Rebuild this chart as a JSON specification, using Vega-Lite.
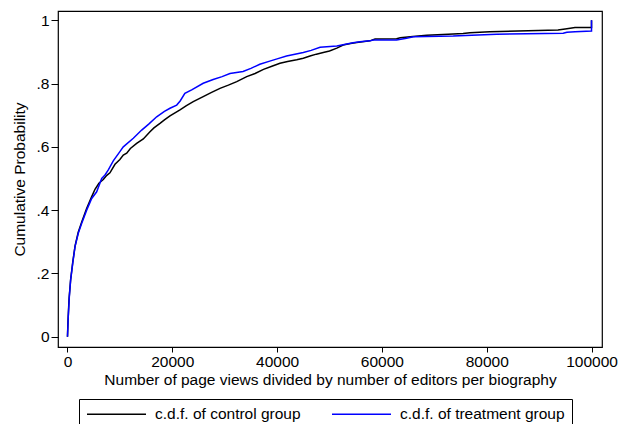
{
  "$schema": "https://vega.github.io/schema/vega-lite/v6.json",
  "width": 544,
  "height": 336,
  "autosize": {"type": "none"},
  "padding": {"left": 58, "top": 11, "right": 16, "bottom": 77},
  "background": "white",
  "config": {
    "font": "Liberation Sans",
    "view": {"stroke": "black", "strokeWidth": 1.2},
    "axis": {
      "domain": false, "grid": false, "tickColor": "black", "labelColor": "black",
      "titleColor": "black", "labelFont": "Liberation Sans", "titleFont": "Liberation Sans",
      "labelFontSize": 15.5, "titleFontSize": 15.5, "titleFontWeight": "normal"
    }
  },
  "data": {
    "values": [
      {"i": 1, "g": "c.d.f. of control group", "x": 0, "y": 0.0},
      {"i": 2, "g": "c.d.f. of control group", "x": 100, "y": 0.05},
      {"i": 3, "g": "c.d.f. of control group", "x": 300, "y": 0.12},
      {"i": 4, "g": "c.d.f. of control group", "x": 600, "y": 0.18},
      {"i": 5, "g": "c.d.f. of control group", "x": 1000, "y": 0.235},
      {"i": 6, "g": "c.d.f. of control group", "x": 1450, "y": 0.287},
      {"i": 7, "g": "c.d.f. of control group", "x": 2050, "y": 0.33},
      {"i": 8, "g": "c.d.f. of control group", "x": 2700, "y": 0.362},
      {"i": 9, "g": "c.d.f. of control group", "x": 3650, "y": 0.405},
      {"i": 10, "g": "c.d.f. of control group", "x": 4600, "y": 0.442},
      {"i": 11, "g": "c.d.f. of control group", "x": 5250, "y": 0.466},
      {"i": 12, "g": "c.d.f. of control group", "x": 6000, "y": 0.485},
      {"i": 13, "g": "c.d.f. of control group", "x": 6830, "y": 0.497},
      {"i": 14, "g": "c.d.f. of control group", "x": 7500, "y": 0.51},
      {"i": 15, "g": "c.d.f. of control group", "x": 8100, "y": 0.518},
      {"i": 16, "g": "c.d.f. of control group", "x": 9065, "y": 0.545},
      {"i": 17, "g": "c.d.f. of control group", "x": 10000, "y": 0.56},
      {"i": 18, "g": "c.d.f. of control group", "x": 10650, "y": 0.574},
      {"i": 19, "g": "c.d.f. of control group", "x": 11300, "y": 0.58},
      {"i": 20, "g": "c.d.f. of control group", "x": 12000, "y": 0.595},
      {"i": 21, "g": "c.d.f. of control group", "x": 13200, "y": 0.611},
      {"i": 22, "g": "c.d.f. of control group", "x": 14470, "y": 0.625},
      {"i": 23, "g": "c.d.f. of control group", "x": 15744, "y": 0.648},
      {"i": 24, "g": "c.d.f. of control group", "x": 16500, "y": 0.66},
      {"i": 25, "g": "c.d.f. of control group", "x": 17650, "y": 0.674},
      {"i": 26, "g": "c.d.f. of control group", "x": 18500, "y": 0.685},
      {"i": 27, "g": "c.d.f. of control group", "x": 19560, "y": 0.698},
      {"i": 28, "g": "c.d.f. of control group", "x": 21470, "y": 0.717},
      {"i": 29, "g": "c.d.f. of control group", "x": 22700, "y": 0.73},
      {"i": 30, "g": "c.d.f. of control group", "x": 24000, "y": 0.743},
      {"i": 31, "g": "c.d.f. of control group", "x": 25900, "y": 0.759},
      {"i": 32, "g": "c.d.f. of control group", "x": 27500, "y": 0.772},
      {"i": 33, "g": "c.d.f. of control group", "x": 29100, "y": 0.785},
      {"i": 34, "g": "c.d.f. of control group", "x": 30700, "y": 0.795},
      {"i": 35, "g": "c.d.f. of control group", "x": 32300, "y": 0.806},
      {"i": 36, "g": "c.d.f. of control group", "x": 34200, "y": 0.822},
      {"i": 37, "g": "c.d.f. of control group", "x": 35800, "y": 0.832},
      {"i": 38, "g": "c.d.f. of control group", "x": 37400, "y": 0.845},
      {"i": 39, "g": "c.d.f. of control group", "x": 39000, "y": 0.855},
      {"i": 40, "g": "c.d.f. of control group", "x": 40550, "y": 0.864},
      {"i": 41, "g": "c.d.f. of control group", "x": 42000, "y": 0.87},
      {"i": 42, "g": "c.d.f. of control group", "x": 43740, "y": 0.875},
      {"i": 43, "g": "c.d.f. of control group", "x": 45000, "y": 0.88},
      {"i": 44, "g": "c.d.f. of control group", "x": 46280, "y": 0.887},
      {"i": 45, "g": "c.d.f. of control group", "x": 47500, "y": 0.893},
      {"i": 46, "g": "c.d.f. of control group", "x": 48800, "y": 0.898},
      {"i": 47, "g": "c.d.f. of control group", "x": 50000, "y": 0.903},
      {"i": 48, "g": "c.d.f. of control group", "x": 51400, "y": 0.912},
      {"i": 49, "g": "c.d.f. of control group", "x": 52600, "y": 0.922},
      {"i": 50, "g": "c.d.f. of control group", "x": 54000, "y": 0.927},
      {"i": 51, "g": "c.d.f. of control group", "x": 55200, "y": 0.930},
      {"i": 52, "g": "c.d.f. of control group", "x": 57700, "y": 0.935},
      {"i": 53, "g": "c.d.f. of control group", "x": 58700, "y": 0.941},
      {"i": 54, "g": "c.d.f. of control group", "x": 62800, "y": 0.942},
      {"i": 55, "g": "c.d.f. of control group", "x": 63500, "y": 0.945},
      {"i": 56, "g": "c.d.f. of control group", "x": 65400, "y": 0.948},
      {"i": 57, "g": "c.d.f. of control group", "x": 68550, "y": 0.953},
      {"i": 58, "g": "c.d.f. of control group", "x": 72670, "y": 0.956},
      {"i": 59, "g": "c.d.f. of control group", "x": 75500, "y": 0.958},
      {"i": 60, "g": "c.d.f. of control group", "x": 76800, "y": 0.961},
      {"i": 61, "g": "c.d.f. of control group", "x": 80600, "y": 0.964},
      {"i": 62, "g": "c.d.f. of control group", "x": 87900, "y": 0.967},
      {"i": 63, "g": "c.d.f. of control group", "x": 93600, "y": 0.969},
      {"i": 64, "g": "c.d.f. of control group", "x": 95300, "y": 0.973},
      {"i": 65, "g": "c.d.f. of control group", "x": 96850, "y": 0.977},
      {"i": 66, "g": "c.d.f. of control group", "x": 100000, "y": 0.977},
      {"i": 67, "g": "c.d.f. of control group", "x": 100000, "y": 1.0},
      {"i": 1, "g": "c.d.f. of treatment group", "x": 0, "y": 0.0},
      {"i": 2, "g": "c.d.f. of treatment group", "x": 150, "y": 0.063},
      {"i": 3, "g": "c.d.f. of treatment group", "x": 350, "y": 0.126},
      {"i": 4, "g": "c.d.f. of treatment group", "x": 600, "y": 0.179},
      {"i": 5, "g": "c.d.f. of treatment group", "x": 1000, "y": 0.232},
      {"i": 6, "g": "c.d.f. of treatment group", "x": 1430, "y": 0.284},
      {"i": 7, "g": "c.d.f. of treatment group", "x": 2060, "y": 0.327},
      {"i": 8, "g": "c.d.f. of treatment group", "x": 2700, "y": 0.358},
      {"i": 9, "g": "c.d.f. of treatment group", "x": 3660, "y": 0.40},
      {"i": 10, "g": "c.d.f. of treatment group", "x": 4620, "y": 0.437},
      {"i": 11, "g": "c.d.f. of treatment group", "x": 5570, "y": 0.458},
      {"i": 12, "g": "c.d.f. of treatment group", "x": 6530, "y": 0.50},
      {"i": 13, "g": "c.d.f. of treatment group", "x": 7160, "y": 0.511},
      {"i": 14, "g": "c.d.f. of treatment group", "x": 7790, "y": 0.527},
      {"i": 15, "g": "c.d.f. of treatment group", "x": 8740, "y": 0.556},
      {"i": 16, "g": "c.d.f. of treatment group", "x": 10000, "y": 0.585},
      {"i": 17, "g": "c.d.f. of treatment group", "x": 10650, "y": 0.600},
      {"i": 18, "g": "c.d.f. of treatment group", "x": 12560, "y": 0.627},
      {"i": 19, "g": "c.d.f. of treatment group", "x": 14160, "y": 0.653},
      {"i": 20, "g": "c.d.f. of treatment group", "x": 15500, "y": 0.672},
      {"i": 21, "g": "c.d.f. of treatment group", "x": 17020, "y": 0.695},
      {"i": 22, "g": "c.d.f. of treatment group", "x": 18500, "y": 0.712},
      {"i": 23, "g": "c.d.f. of treatment group", "x": 19560, "y": 0.722},
      {"i": 24, "g": "c.d.f. of treatment group", "x": 20840, "y": 0.732},
      {"i": 25, "g": "c.d.f. of treatment group", "x": 21500, "y": 0.745},
      {"i": 26, "g": "c.d.f. of treatment group", "x": 22400, "y": 0.769},
      {"i": 27, "g": "c.d.f. of treatment group", "x": 23700, "y": 0.780},
      {"i": 28, "g": "c.d.f. of treatment group", "x": 25900, "y": 0.801},
      {"i": 29, "g": "c.d.f. of treatment group", "x": 27800, "y": 0.813},
      {"i": 30, "g": "c.d.f. of treatment group", "x": 29500, "y": 0.822},
      {"i": 31, "g": "c.d.f. of treatment group", "x": 31000, "y": 0.832},
      {"i": 32, "g": "c.d.f. of treatment group", "x": 33500, "y": 0.838},
      {"i": 33, "g": "c.d.f. of treatment group", "x": 35000, "y": 0.848},
      {"i": 34, "g": "c.d.f. of treatment group", "x": 36700, "y": 0.861},
      {"i": 35, "g": "c.d.f. of treatment group", "x": 38600, "y": 0.871},
      {"i": 36, "g": "c.d.f. of treatment group", "x": 40000, "y": 0.878},
      {"i": 37, "g": "c.d.f. of treatment group", "x": 41800, "y": 0.887},
      {"i": 38, "g": "c.d.f. of treatment group", "x": 45000, "y": 0.898},
      {"i": 39, "g": "c.d.f. of treatment group", "x": 46500, "y": 0.905},
      {"i": 40, "g": "c.d.f. of treatment group", "x": 48200, "y": 0.915},
      {"i": 41, "g": "c.d.f. of treatment group", "x": 51400, "y": 0.919},
      {"i": 42, "g": "c.d.f. of treatment group", "x": 54500, "y": 0.929},
      {"i": 43, "g": "c.d.f. of treatment group", "x": 55800, "y": 0.932},
      {"i": 44, "g": "c.d.f. of treatment group", "x": 57700, "y": 0.935},
      {"i": 45, "g": "c.d.f. of treatment group", "x": 58400, "y": 0.938},
      {"i": 46, "g": "c.d.f. of treatment group", "x": 62800, "y": 0.938},
      {"i": 47, "g": "c.d.f. of treatment group", "x": 64700, "y": 0.943},
      {"i": 48, "g": "c.d.f. of treatment group", "x": 66000, "y": 0.948},
      {"i": 49, "g": "c.d.f. of treatment group", "x": 73600, "y": 0.950},
      {"i": 50, "g": "c.d.f. of treatment group", "x": 81900, "y": 0.956},
      {"i": 51, "g": "c.d.f. of treatment group", "x": 94600, "y": 0.959},
      {"i": 52, "g": "c.d.f. of treatment group", "x": 95300, "y": 0.962},
      {"i": 53, "g": "c.d.f. of treatment group", "x": 96850, "y": 0.964},
      {"i": 54, "g": "c.d.f. of treatment group", "x": 100000, "y": 0.966},
      {"i": 55, "g": "c.d.f. of treatment group", "x": 100000, "y": 1.0}
    ]
  },
  "mark": {"type": "line", "strokeWidth": 1.5, "clip": true},
  "encoding": {
    "x": {
      "field": "x", "type": "quantitative",
      "scale": {"domain": [-1810, 102000], "nice": false, "zero": false},
      "axis": {
        "values": [0, 20000, 40000, 60000, 80000, 100000], "format": "d",
        "tickSize": 5, "labelPadding": 2, "titlePadding": 3,
        "title": "Number of page views divided by number of editors per biography"
      }
    },
    "y": {
      "field": "y", "type": "quantitative",
      "scale": {"domain": [-0.0326, 1.0294], "nice": false, "zero": false},
      "axis": {
        "values": [0, 0.2, 0.4, 0.6, 0.8, 1],
        "labelExpr": "datum.value == 0 ? '0' : datum.value == 1 ? '1' : '.' + round(datum.value * 10)",
        "tickSize": 7, "labelPadding": 2, "titlePadding": 9,
        "title": "Cumulative Probability"
      }
    },
    "color": {
      "field": "g", "type": "nominal",
      "scale": {"domain": ["c.d.f. of control group", "c.d.f. of treatment group"], "range": ["#000000", "#0000ff"]},
      "legend": {
        "title": null, "orient": "none", "legendX": 21, "legendY": 388,
        "direction": "horizontal", "symbolType": "stroke", "symbolSize": 3481,
        "clipHeight": 16, "labelLimit": 400,
        "symbolStrokeWidth": 1.5, "labelFontSize": 15.5, "labelFont": "Liberation Sans",
        "labelColor": "black", "labelOffset": 8, "columnPadding": 30,
        "padding": 7, "strokeColor": "black", "fillColor": "white"
      }
    },
    "order": {"field": "i", "type": "quantitative"}
  }
}
